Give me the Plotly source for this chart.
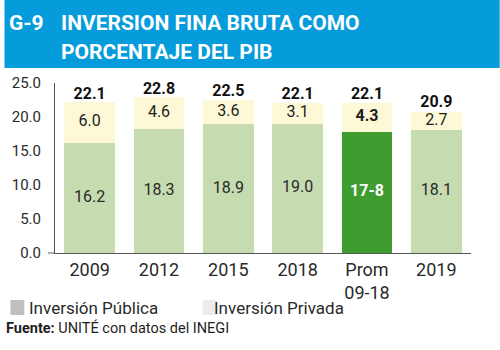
import plotly.graph_objects as go

categories = ["2009", "2012", "2015", "2018", "Prom<br>09-18", "2019"]
publica = [16.2, 18.3, 18.9, 19.0, 17.8, 18.1]
privada = [6.0, 4.6, 3.6, 3.1, 4.3, 2.7]
totales = [22.1, 22.8, 22.5, 22.1, 22.1, 20.9]
publica_lbl = ["16.2", "18.3", "18.9", "19.0", "17-8", "18.1"]
privada_lbl = ["6.0", "4.6", "3.6", "3.1", "4.3", "2.7"]
total_lbl = ["22.1", "22.8", "22.5", "22.1", "22.1", "20.9"]
y_ticks = [0, 5, 10, 15, 20, 25]

FONT = "Roboto, sans-serif"

W, H = 500, 350
L, R, T, B = 51, 29, 83, 97
PW, PH = W - L - R, H - T - B

def px_x(px):
    return (px - L) / PW

def px_y(py):
    return (H - B - py) / PH

hi = 4  # Prom index
pub_colors = ["#c6dbb0"] * len(categories)
pub_colors[hi] = "#3f9c2f"
pub_text_colors = ["#2a2a2a"] * len(categories)
pub_text_colors[hi] = "#ffffff"

fig = go.Figure()
fig.add_trace(go.Bar(x=categories, y=publica, marker=dict(color=pub_colors, line=dict(width=0)),
                     width=0.73, hoverinfo="skip", showlegend=False))
fig.add_trace(go.Bar(x=categories, y=privada, marker=dict(color="#fdf8d6", line=dict(width=0)),
                     width=0.73, hoverinfo="skip", showlegend=False))

# labels
fig.add_trace(go.Scatter(x=categories, y=[p / 2 for p in publica], mode="text",
                         text=[("<b>%s</b>" % t) if i == hi else t for i, t in enumerate(publica_lbl)],
                         textfont=dict(family=FONT, size=16, color=pub_text_colors),
                         hoverinfo="skip", showlegend=False, cliponaxis=False))
fig.add_trace(go.Scatter(x=categories, y=[p + q / 2 for p, q in zip(publica, privada)], mode="text",
                         text=[("<b>%s</b>" % t) if i == hi else t for i, t in enumerate(privada_lbl)],
                         textfont=dict(family=FONT, size=16, color="#1e1e1e"),
                         hoverinfo="skip", showlegend=False, cliponaxis=False))
fig.add_trace(go.Scatter(x=categories, y=totales, mode="text", textposition="top center",
                         text=["<b>%s</b>" % t for t in total_lbl],
                         textfont=dict(family=FONT, size=16, color="#111111"),
                         hoverinfo="skip", showlegend=False, cliponaxis=False))

shapes = [
    dict(type="rect", xref="paper", yref="paper", x0=px_x(0), x1=px_x(W), y0=px_y(68), y1=px_y(0),
         fillcolor="#069cdc", line=dict(width=0), layer="below"),
    dict(type="line", xref="paper", yref="paper", x0=px_x(44), x1=px_x(51), y0=0, y1=0,
         line=dict(color="#555555", width=1)),
    dict(type="rect", xref="paper", yref="paper", x0=px_x(6), x1=px_x(20), y0=px_y(315), y1=px_y(300),
         fillcolor="#bfbfbf", line=dict(width=0)),
    dict(type="rect", xref="paper", yref="paper", x0=px_x(200), x1=px_x(214), y0=px_y(315), y1=px_y(300),
         fillcolor="#ececec", line=dict(width=0)),
]

annotations = [
    dict(text="<b>G-9</b>", x=px_x(3), y=px_y(23), xref="paper", yref="paper", xanchor="left", yanchor="middle",
         showarrow=False, font=dict(family=FONT, size=21, color="white")),
    dict(text="<b>INVERSION FINA BRUTA COMO</b>", x=px_x(55), y=px_y(23), xref="paper", yref="paper",
         xanchor="left", yanchor="middle", showarrow=False, font=dict(family=FONT, size=21, color="white")),
    dict(text="<b>PORCENTAJE DEL PIB</b>", x=px_x(55), y=px_y(52), xref="paper", yref="paper",
         xanchor="left", yanchor="middle", showarrow=False, font=dict(family=FONT, size=21, color="white")),
    dict(text="Inversión Pública", x=px_x(23), y=px_y(308), xref="paper", yref="paper", xanchor="left",
         yanchor="middle", showarrow=False, font=dict(family=FONT, size=17, color="#2a2a2a")),
    dict(text="Inversión Privada", x=px_x(210), y=px_y(308), xref="paper", yref="paper", xanchor="left",
         yanchor="middle", showarrow=False, font=dict(family=FONT, size=17, color="#2a2a2a")),
    dict(text="<b>Fuente:</b> UNITÉ con datos del INEGI", x=px_x(0), y=px_y(328), xref="paper", yref="paper",
         xanchor="left", yanchor="middle", showarrow=False, font=dict(family=FONT, size=14.5, color="#1e1e1e")),
]

fig.update_layout(
    width=W, height=H, margin=dict(l=L, r=R, t=T, b=B),
    paper_bgcolor="white", plot_bgcolor="white",
    barmode="stack", showlegend=False,
    shapes=shapes, annotations=annotations,
    xaxis=dict(type="category", range=[-0.5, 5.5], showline=True, linecolor="#555555", linewidth=1,
               showgrid=False, ticks="", tickfont=dict(family=FONT, size=18, color="#2a2a2a"),
               fixedrange=True),
    yaxis=dict(range=[0, 25], tickvals=y_ticks, ticktext=["%.1f" % v for v in y_ticks],
               showline=True, linecolor="#555555", linewidth=1, showgrid=False, zeroline=False,
               ticks="", ticklabelstandoff=10, tickfont=dict(family=FONT, size=15, color="#2a2a2a"),
               fixedrange=True),
)

fig.write_html("out.html")
